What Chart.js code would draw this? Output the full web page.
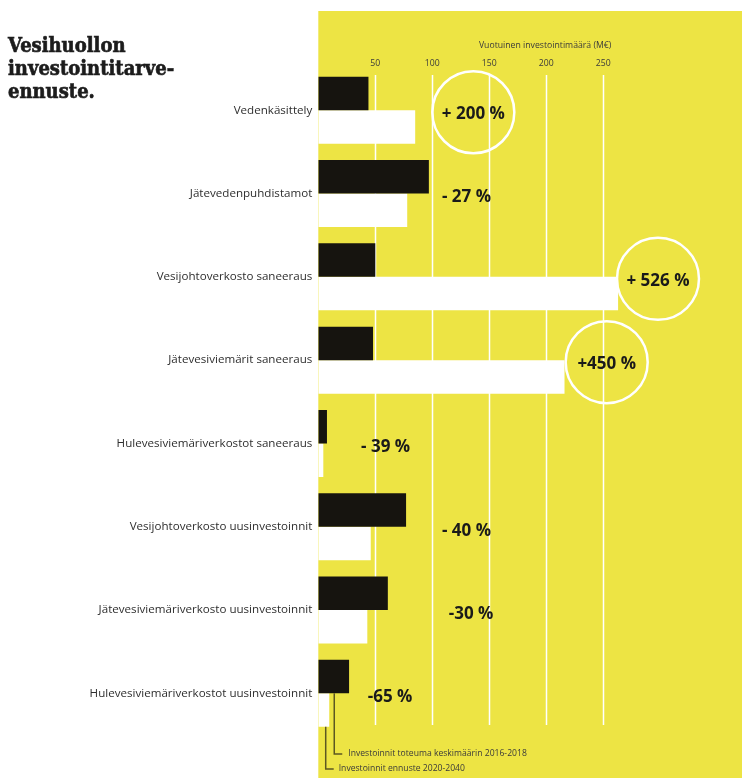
<!DOCTYPE html>
<html lang="fi">
<head>
  <meta charset="UTF-8" />
  <title>Vesihuollon investointitarve-ennuste</title>
  <script src="https://cdn.jsdelivr.net/npm/chart.js"></script>
  <style>
    body { margin: 0; background: #fff; }
    #wrap { position: relative; width: 742px; height: 778px; }
    #title {
      position: absolute; left: 8px; top: 34px;
      font-family: 'DejaVu Serif Condensed', 'DejaVu Serif', serif;
      font-weight: bold; font-size: 20px; line-height: 23px; color: #1c1c1c;
      -webkit-text-stroke: 0.6px #1c1c1c;
    }
  </style>
</head>
<body>
<div id="wrap">
  <canvas id="chart" width="742" height="778"></canvas>
  <div id="title">Vesihuollon<br>investointitarve-<br>ennuste.</div>
</div>
<script>
// kategoriat ylhäältä alas
const categories = [
  'Vedenkäsittely',
  'Jätevedenpuhdistamot',
  'Vesijohtoverkosto saneeraus',
  'Jätevesiviemärit saneeraus',
  'Hulevesiviemäriverkostot saneeraus',
  'Vesijohtoverkosto uusinvestoinnit',
  'Jätevesiviemäriverkosto uusinvestoinnit',
  'Hulevesiviemäriverkostot uusinvestoinnit'
];
// M€ / vuosi, luettu kuvasta
const actual2016 = [44, 97, 50, 48, 7.6, 77, 61, 27];
const forecast2020 = [85, 78, 263, 216, 4.4, 46, 43, 9.6];

const tickValues = [50, 100, 150, 200, 250];

// muutosprosentit, niiden x-kohta (M€) ja onko ympyrä
const pctLabels = ['+ 200 %', '- 27 %', '+ 526 %', '+450 %', '- 39 %', '- 40 %', '-30 %', '-65 %'];
const pctX = [136, 130, 298, 253, 59, 130, 134, 63];
const pctCircle = [true, false, true, true, false, false, false, false];

const legendLabels = ['Investoinnit toteuma keskimäärin 2016-2018', 'Investoinnit ennuste 2020-2040'];

const YELLOW = '#ede444';
const BLACK = '#16140f';

const decorPlugin = {
  id: 'decor',
  beforeDraw(chart) {
    const { ctx, chartArea } = chart;
    ctx.save();
    ctx.fillStyle = YELLOW;
    ctx.fillRect(chartArea.left, 11, chart.width - chartArea.left, chart.height - 11);
    ctx.restore();
  },
  beforeDatasetsDraw(chart) {
    const { ctx } = chart;
    const x = chart.scales.x;
    ctx.save();
    ctx.strokeStyle = '#ffffff';
    ctx.lineWidth = 1.5;
    tickValues.forEach(v => {
      const px = Math.round(x.getPixelForValue(v)) + 0.5;
      ctx.beginPath();
      ctx.moveTo(px, 75);
      ctx.lineTo(px, 725);
      ctx.stroke();
    });
    ctx.restore();
  },
  afterDatasetsDraw(chart) {
    const { ctx } = chart;
    const x = chart.scales.x;
    const y = chart.scales.y;
    ctx.save();

    // akselin otsikko
    ctx.fillStyle = '#3a3a3a';
    ctx.font = '8.7px "Open Sans", sans-serif';
    ctx.textAlign = 'center';
    ctx.textBaseline = 'middle';
    ctx.fillText('Vuotuinen investointimäärä (M€)', x.getPixelForValue(199), 46);

    // prosentit ja ympyrät
    pctLabels.forEach((txt, i) => {
      const cx = x.getPixelForValue(pctX[i]);
      const cy = y.getPixelForValue(i) + 4;
      if (pctCircle[i]) {
        ctx.strokeStyle = '#ffffff';
        ctx.lineWidth = 2.5;
        ctx.beginPath();
        ctx.arc(cx, cy - 2, 41, 0, Math.PI * 2);
        ctx.stroke();
      }
      ctx.fillStyle = '#1a1a1a';
      ctx.font = 'bold 17px "Open Sans", sans-serif';
      ctx.textAlign = 'center';
      ctx.textBaseline = 'middle';
      ctx.fillText(txt, cx, cy);
    });

    // selitteen viivat
    const last = categories.length - 1;
    const meta0 = chart.getDatasetMeta(0).data[last];
    const meta1 = chart.getDatasetMeta(1).data[last];
    ctx.strokeStyle = '#5c5722';
    ctx.lineWidth = 1.5;
    const lx1 = x.getPixelForValue(14);
    const lx2 = x.getPixelForValue(6.5);
    ctx.beginPath();
    ctx.moveTo(lx1, meta0.y + meta0.height / 2);
    ctx.lineTo(lx1, 754);
    ctx.lineTo(lx1 + 8, 754);
    ctx.moveTo(lx2, meta1.y + meta1.height / 2);
    ctx.lineTo(lx2, 769);
    ctx.lineTo(lx2 + 8, 769);
    ctx.stroke();

    ctx.fillStyle = '#3a3a3a';
    ctx.font = '8.6px "Open Sans", sans-serif';
    ctx.textAlign = 'left';
    ctx.fillText(legendLabels[0], lx1 + 14, 754);
    ctx.fillText(legendLabels[1], lx2 + 13, 769);
    ctx.restore();
  }
};

new Chart(document.getElementById('chart'), {
  type: 'bar',
  data: {
    labels: categories,
    datasets: [
      {
        label: legendLabels[0],
        data: actual2016,
        backgroundColor: BLACK,
        categoryPercentage: 0.804,
        barPercentage: 1.0
      },
      {
        label: legendLabels[1],
        data: forecast2020,
        backgroundColor: '#ffffff',
        categoryPercentage: 0.804,
        barPercentage: 1.0
      }
    ]
  },
  options: {
    indexAxis: 'y',
    responsive: false,
    animation: false,
    layout: { padding: { left: 0, right: 0, top: 0, bottom: 43 } },
    plugins: {
      legend: { display: false },
      tooltip: { enabled: false }
    },
    scales: {
      x: {
        position: 'top',
        min: 0,
        max: 371.7,
        afterBuildTicks(scale) {
          scale.ticks = tickValues.map(v => ({ value: v }));
        },
        afterFit(scale) { scale.height = 68.6; },
        grid: { display: false, drawTicks: false },
        border: { display: false },
        ticks: {
          padding: 0,
          color: '#3a3a3a',
          font: { family: 'Open Sans', size: 8.7 },
          maxRotation: 0
        }
      },
      y: {
        afterFit(scale) { scale.width = 318.3; },
        grid: { display: false, drawTicks: false },
        border: { display: false },
        ticks: {
          padding: 6,
          color: '#2e2e2e',
          font: { family: 'Open Sans', size: 11.6 }
        }
      }
    }
  },
  plugins: [decorPlugin]
});
</script>
</body>
</html>
